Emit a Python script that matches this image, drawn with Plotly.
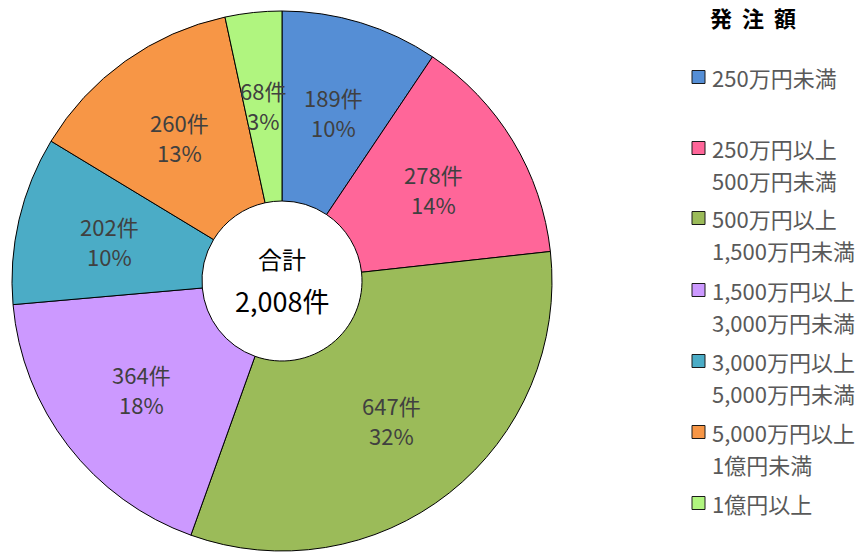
import math
import plotly.graph_objects as go

categories = ["250万円未満", "250万円以上<br>500万円未満", "500万円以上<br>1,500万円未満",
              "1,500万円以上<br>3,000万円未満", "3,000万円以上<br>5,000万円未満",
              "5,000万円以上<br>1億円未満", "1億円以上"]
counts = [189, 278, 647, 364, 202, 260, 68]
pct_labels = ["10%", "14%", "32%", "18%", "10%", "13%", "3%"]
colors = ["#558ED5", "#FF6699", "#9BBB59", "#CC99FF", "#4BACC6", "#F79646", "#B0F57F"]
center_title = "合計"
total_label = "2,008件"
legend_title = "発 注 額"

W, H = 864, 553
cx, cy, R, R_in = 282, 281, 270, 80
FONT = "Noto Sans CJK JP"

fig = go.Figure(go.Pie(
    labels=categories,
    values=counts,
    textinfo="none",
    sort=False,
    direction="clockwise",
    rotation=0,
    hole=R_in / R,
    marker=dict(colors=colors, line=dict(color="#000000", width=1)),
    showlegend=False,
    hoverinfo="label+value+percent",
    domain=dict(x=[(cx - R) / W, (cx + R) / W], y=[(H - cy - R) / H, (H - cy + R) / H]),
))

annotations = []
shapes = []

# slice labels placed at the middle of the ring, at each slice's mid angle
total = sum(counts)
r_lab = 177
cum = 0
for c, p in zip(counts, pct_labels):
    frac = (cum + c / 2) / total
    ang = 2 * math.pi * frac
    px = cx + r_lab * math.sin(ang)
    py = cy - r_lab * math.cos(ang)
    for txt, dy in ((f"{c}件", -15), (p, 15)):
        annotations.append(dict(x=px / W, y=1 - (py + dy) / H, xref="paper", yref="paper",
                                xanchor="center", yanchor="middle",
                                text=txt, showarrow=False,
                                font=dict(family=FONT, size=22, color="#404040")))
    cum += c

# center text
annotations.append(dict(x=cx / W, y=1 - 258 / H, xref="paper", yref="paper", text=center_title,
                        xanchor="center", yanchor="middle",
                        showarrow=False, font=dict(family=FONT, size=24, color="#000000")))
annotations.append(dict(x=cx / W, y=1 - 300 / H, xref="paper", yref="paper", text=total_label,
                        xanchor="center", yanchor="middle",
                        showarrow=False, font=dict(family=FONT, size=27, color="#000000")))
# legend title
annotations.append(dict(x=753 / W, y=1 - 17 / H, xref="paper", yref="paper",
                        text="<b>" + legend_title.replace(" ", "&nbsp;&nbsp;") + "</b>",
                        xanchor="center", yanchor="middle",
                        showarrow=False, font=dict(family=FONT, size=22, color="#000000")))
# legend items
item_y = [77, 148, 218, 290, 361, 432, 503]
for lab, col, yy in zip(categories, colors, item_y):
    shapes.append(dict(type="rect", xref="paper", yref="paper",
                       x0=692 / W, x1=705 / W, y0=1 - (yy + 6.5) / H, y1=1 - (yy - 6.5) / H,
                       fillcolor=col, line=dict(color="#1a1a1a", width=1)))
    for i, line in enumerate(lab.split("<br>")):
        annotations.append(dict(x=710 / W, y=1 - (yy + 32 * i) / H, xref="paper", yref="paper",
                                xanchor="left", yanchor="middle", align="left", text=line,
                                showarrow=False,
                                font=dict(family=FONT, size=22, color="#595959")))

fig.update_layout(
    width=W, height=H,
    margin=dict(l=0, r=0, t=0, b=0),
    paper_bgcolor="#FFFFFF",
    plot_bgcolor="#FFFFFF",
    annotations=annotations,
    shapes=shapes,
)

fig.write_html("out.html", config={"displayModeBar": False},
               post_script="document.body.style.margin='0px';")
